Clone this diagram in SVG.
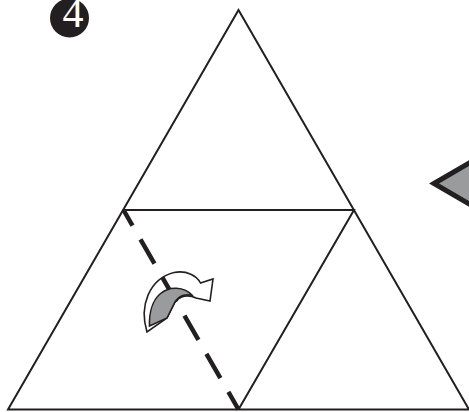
<svg xmlns="http://www.w3.org/2000/svg" width="469" height="412" viewBox="0 0 469 412">
<style>
.ln{fill:none;stroke:#231f20;stroke-width:2;stroke-linejoin:miter}
.dash{fill:none;stroke:#231f20;stroke-width:4.5;stroke-dasharray:28 16;stroke-dashoffset:10}
.ol{stroke:#231f20;stroke-width:1.6;stroke-linejoin:miter}
.grey{fill:#9a9b9d}
.badge{font-family:"Liberation Serif","DejaVu Serif",serif;font-size:42px;fill:#ffffff}
</style>
<rect width="469" height="412" fill="#ffffff"/>
<g id="step-badge">
<circle cx="69.5" cy="18" r="19.5" fill="#231f20"/>
<text class="badge" x="73" y="27" text-anchor="middle">4</text>
</g>
<g id="triangle">
<polygon class="ln" points="238.5,10 469,409.5 8,409.5"/>
<polyline class="ln" points="123.5,210 354,210 238.5,409.5"/>
</g>
<g id="pointer-arrow">
<polygon class="grey" style="stroke:#231f20;stroke-width:5;stroke-linejoin:miter" points="434,183.5 476,159 476,208"/>
</g>
<g id="fold-arrow">
<path class="ol" fill="#ffffff" d="M147,332 C139,306 149,279 174,272.5 C187,270 197,276 200.5,283 L213,279 L210,301 L196,298 C188,294 180,296 175,302 L167,318 Z"/>
</g>
<g id="connectors">
<line class="dash" x1="123.5" y1="210" x2="238.5" y2="409.5"/>
</g>
<g id="fold-arrow-back">
<path class="ol grey" d="M149.5,326 C149,312 153,300 160,294 C169,286 184,286 193,296 C186,293 179,296 175,302 L167,318 Z"/>
</g>
</svg>
